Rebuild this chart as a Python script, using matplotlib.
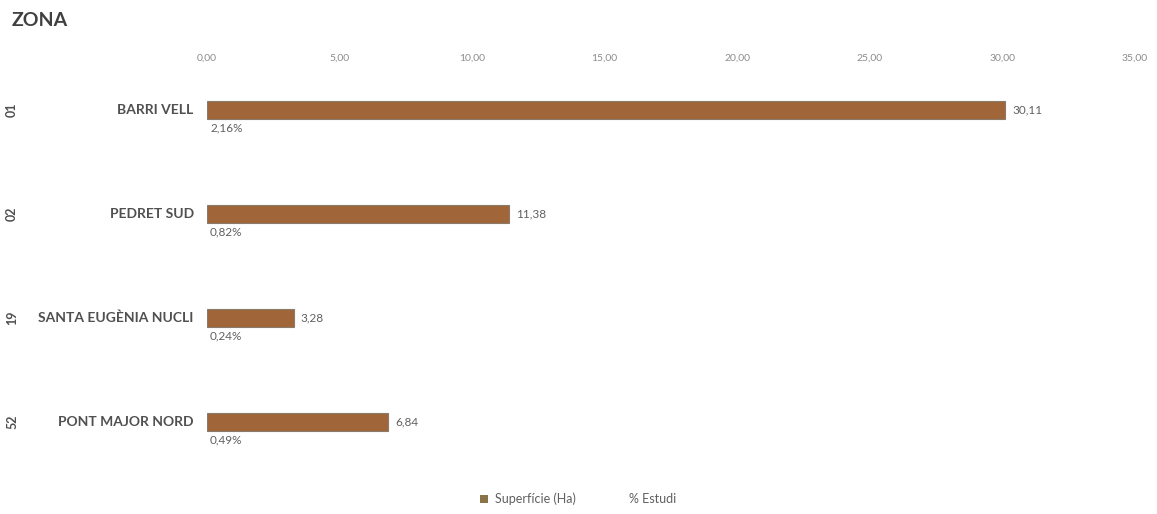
import matplotlib
matplotlib.use("Agg")
import matplotlib.pyplot as plt
from matplotlib.patches import Patch

plt.rcParams['font.family'] = ['Lato', 'DejaVu Sans']

codes = ["01", "02", "19", "52"]
names = ["BARRI VELL", "PEDRET SUD", "SANTA EUGÈNIA NUCLI", "PONT MAJOR NORD"]
superficie = [30.11, 11.38, 3.28, 6.84]
pct_estudi = [2.16, 0.82, 0.24, 0.49]
xticks = [0, 5, 10, 15, 20, 25, 30, 35]

W, H = 1157, 514
fig = plt.figure(figsize=(W / 100, H / 100), dpi=100)
ax = fig.add_axes([207 / W, 1 - 470 / H, (1135 - 207) / W, 400 / H])

ypos = list(range(len(names)))
bar_color = "#A0663A"
bars = ax.barh(ypos, superficie, height=0.17, color=bar_color,
               edgecolor="#8a7a6a", linewidth=0.8)
ax.bar_label(bars, labels=[f"{v:.2f}".replace(".", ",") for v in superficie],
             padding=5, fontsize=8.5, color="#606060")

pbars = ax.barh([y + 0.17 for y in ypos], [p / 100 for p in pct_estudi],
                height=0.01, color="none")
ax.bar_label(pbars, labels=[f"{p:.2f}%".replace(".", ",") for p in pct_estudi],
             padding=2, fontsize=8.5, color="#606060")

ax.set_xlim(0, 35)
ax.set_ylim(3.46, -0.385)
ax.xaxis.tick_top()
ax.set_xticks(xticks)
ax.set_xticklabels([f"{t:.2f}".replace(".", ",") for t in xticks],
                   fontsize=7.5, color="#8c8c8c")
ax.tick_params(axis="x", length=0, pad=5)
ax.set_yticks([])
for s in ax.spines.values():
    s.set_visible(False)

for y, name, code in zip(ypos, names, codes):
    ax.text(-0.5, y, name, ha="right", va="center", fontsize=10,
            fontweight="bold", color="#505050", transform=ax.transData)
    ax.annotate(code, xy=(12 / W, y), xycoords=("figure fraction", "data"),
                rotation=90, ha="center", va="center", fontsize=9,
                color="#505050", fontweight="bold")

fig.text(12 / W, 1 - 20 / H, "ZONA", ha="left", va="center", fontsize=14,
         fontweight="bold", color="#404040")

handles = [Patch(facecolor="#8B7347"), Patch(facecolor="none", edgecolor="none")]
fig.legend(handles, ["Superfície (Ha)", "% Estudi"], loc="center",
           bbox_to_anchor=(578 / W, 1 - 499 / H), ncol=2, frameon=False,
           fontsize=9, labelcolor="#606060", handlelength=0.6,
           handleheight=0.6, columnspacing=3.0, handletextpad=0.6)

fig.savefig("out.png", dpi=100)
